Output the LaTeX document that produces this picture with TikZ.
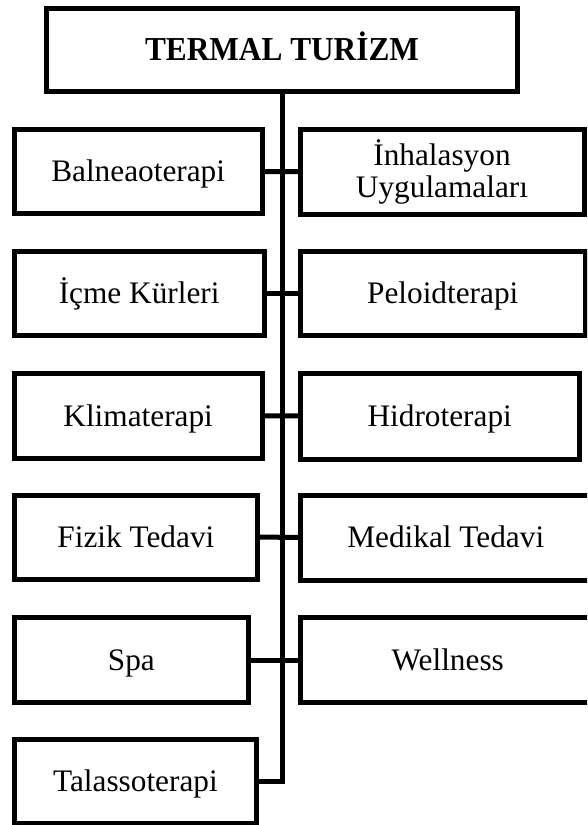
\documentclass[tikz,border=0pt]{standalone}
\usepackage{fontspec}
\usepackage{graphicx}
\setmainfont{Liberation Serif}
\begin{document}
\begin{tikzpicture}[x=1pt,y=-1pt,
  box/.style={draw=black, line width=5pt, rectangle, outer sep=0pt, inner sep=0pt,
    font=\fontsize{31.3}{32}\selectfont, text height=20.5pt, text depth=0pt, align=center},
  conn/.style={draw=black, line width=5pt}]
\useasboundingbox (0,0) rectangle (587,825);
\begin{scope}
\clip (0,0) rectangle (587,825);
% top
\node[box, minimum width=471pt, minimum height=82.5pt, text height=22.3pt, font=\fontsize{31.3}{32}\selectfont\bfseries] (top) at (282,49.75) {\scalebox{1}[1.07]{TERMAL TUR\.{I}ZM}};
% left column
\node[box, minimum width=247.7pt, minimum height=84pt] (l1) at (138.15,171.5) {Balneaoterapi};
\node[box, minimum width=249.7pt, minimum height=84.5pt] (l2) at (139.15,293.25) {İçme Kürleri};
\node[box, minimum width=247.7pt, minimum height=85.7pt] (l3) at (138.15,415.85) {Klimaterapi};
\node[box, minimum width=243.2pt, minimum height=84pt] (l4) at (135.9,537) {Fizik Tedavi};
\node[box, minimum width=234.2pt, minimum height=85pt] (l5) at (131.4,660) {Spa};
\node[box, minimum width=242.2pt, minimum height=84pt] (l6) at (135.4,781) {Talassoterapi};
% right column
\node[box, minimum width=284pt, minimum height=84.5pt, text height=52pt, text depth=0pt] (r1) at (442,171.75) {İnhalasyon\\Uygulamaları};
\node[box, minimum width=284.5pt, minimum height=84.5pt] (r2) at (442.75,293.25) {Peloidterapi};
\node[box, minimum width=278.5pt, minimum height=86pt] (r3) at (439.75,416) {Hidroterapi};
\node[box, minimum width=290.5pt, minimum height=85pt] (r4) at (445.75,537.5) {Medikal Tedavi};
\node[box, minimum width=294.5pt, minimum height=85pt] (r5) at (447.75,660) {Wellness};
% connectors
\coordinate (tend) at (282,781);
\draw[conn] (top.south) -- (tend) -- (l6.east);
\draw[conn] (l1.east) -- (r1.west);
\draw[conn] (l2.east) -- (r2.west);
\draw[conn] (l3.east) -- (r3.west);
\draw[conn] (l4.east) -- (r4.west);
\draw[conn] (l5.east) -- (r5.west);
\end{scope}
\end{tikzpicture}
\end{document}
